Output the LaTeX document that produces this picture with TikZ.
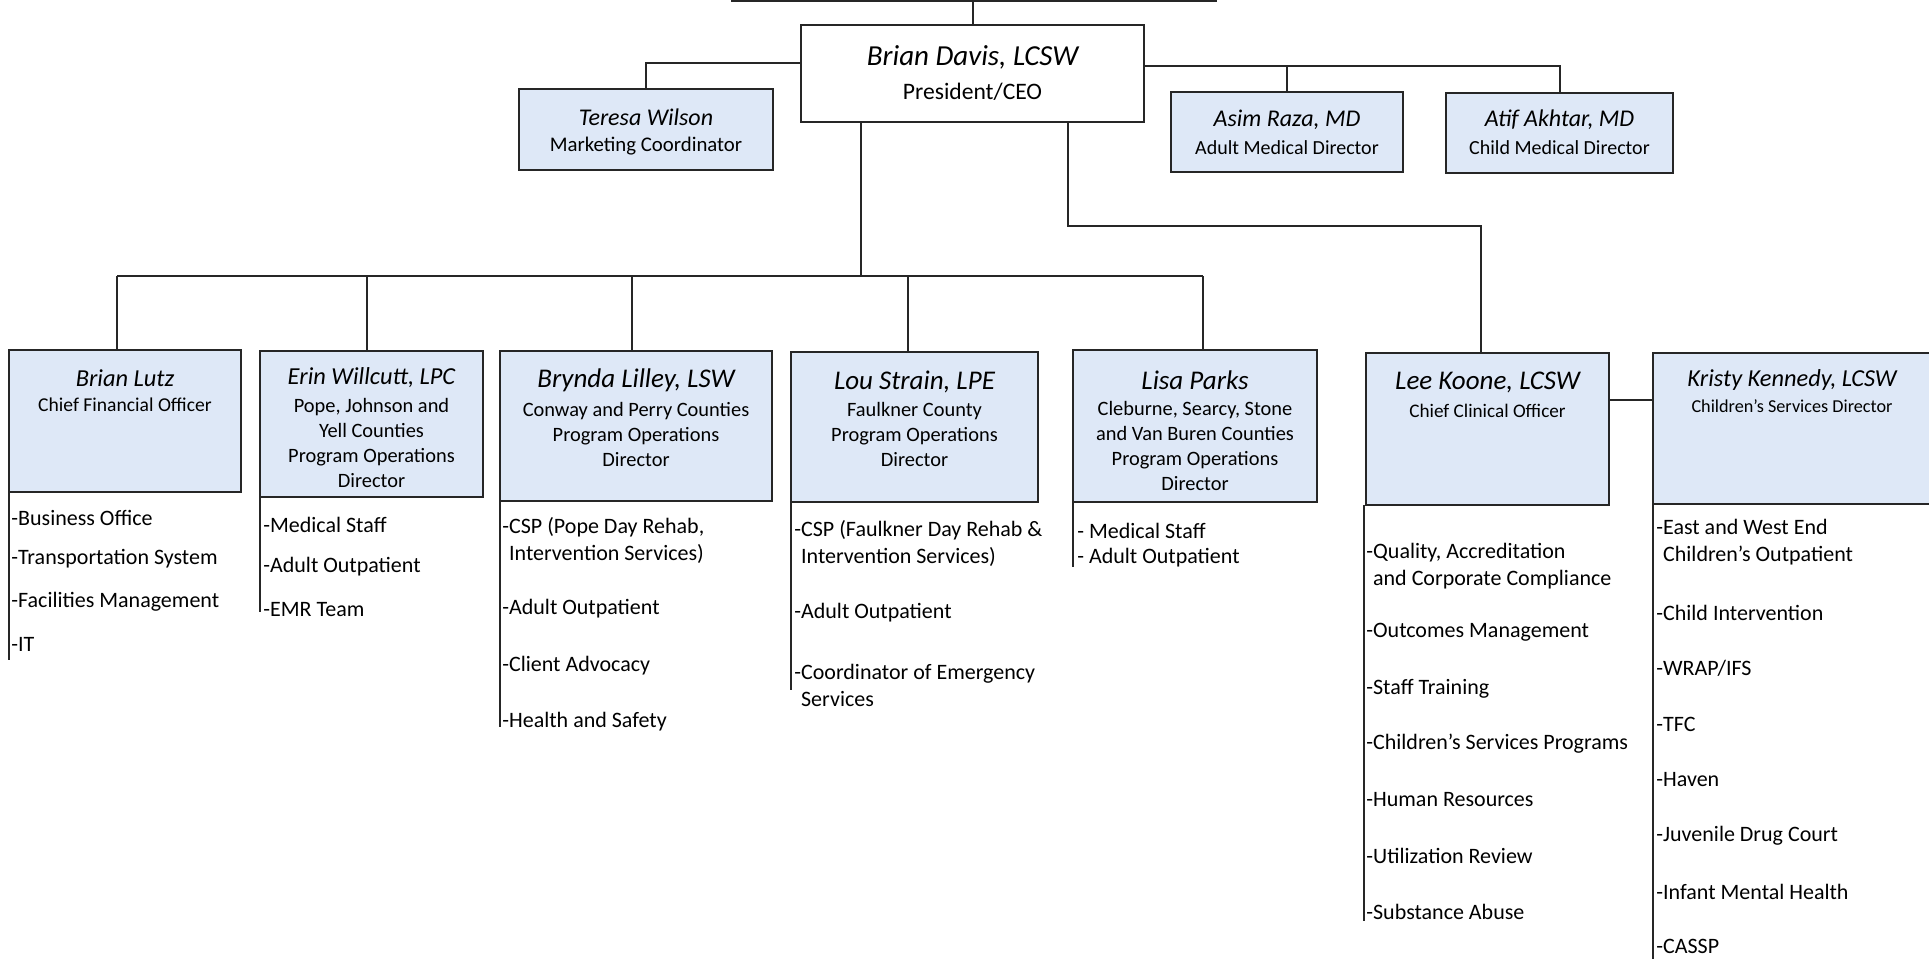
\documentclass[tikz,border=0pt]{standalone}
\usepackage{fontspec}
\setmainfont{Carlito}
\usetikzlibrary{calc}
\definecolor{boxblue}{RGB}{222,232,247}
\begin{document}
\begin{tikzpicture}[x=0.5pt,y=-0.5pt,
  box/.style={draw=black!85, line width=1.2pt, fill=boxblue, inner sep=0pt, outer sep=0pt},
  conn/.style={draw=black!85, line width=1pt},
  lline/.style={draw=black!85, line width=0.8pt},
  nm/.style={inner sep=0pt, font=\fontsize{13.5}{16}\selectfont\itshape},
  sb/.style={inner sep=0pt, align=center, font=\fontsize{10.2}{12.5}\selectfont},
  lst/.style={inner sep=0pt, anchor=west, align=left, font=\fontsize{11}{13.5}\selectfont}]
\useasboundingbox (0,0) rectangle (1929,959);
\clip (0,0) rectangle (1929,959);
\fill[white] (0,0) rectangle (1929,959);

% ---------- boxes ----------
\node[box, fill=white, minimum width=171.5pt, minimum height=48.5pt] (ceo) at (972.5,73.5) {};
\node[box, minimum width=127pt, minimum height=40.5pt] (teresa) at (646,129.5) {};
\node[box, minimum width=116pt, minimum height=40pt] (asim) at (1287,132) {};
\node[box, minimum width=113.5pt, minimum height=40pt] (atif) at (1559.5,133) {};
\node[box, minimum width=116pt, minimum height=71pt] (lutz) at (125,421) {};
\node[box, minimum width=111.5pt, minimum height=73pt] (erin) at (371.5,424) {};
\node[box, minimum width=136pt, minimum height=75pt] (brynda) at (636,426) {};
\node[box, minimum width=123.5pt, minimum height=75pt] (lou) at (914.5,427) {};
\node[box, minimum width=122pt, minimum height=76pt] (lisa) at (1195,426) {};
\node[box, minimum width=121.5pt, minimum height=76pt] (lee) at (1487.5,429) {};
\node[box, minimum width=139pt, minimum height=75.5pt] (kristy) at (1792,428.5) {};

% ---------- connectors ----------
\coordinate (topL) at (731,1);
\coordinate (topR) at (1217,1);
\coordinate (topM) at (972.5,1);
\draw[conn] (topL) -- (topR);
\draw[conn] (topM) -- (ceo.north);
\coordinate (tj) at (801,63);
\draw[conn] (tj) -| (teresa.north);
\coordinate (rj) at (1144,66);
\draw[conn] (rj) -| (atif.north);
\coordinate (aj) at (1287,66);
\draw[conn] (aj) -- (asim.north);
\coordinate (c1) at (861,122);
\coordinate (bus1) at (861,276);
\draw[conn] (c1) -- (bus1);
\coordinate (busL) at (117,276);
\coordinate (busR) at (1203,276);
\coordinate (b2) at (367,276);
\coordinate (b3) at (632,276);
\coordinate (b4) at (908,276);
\draw[conn] (busL) -- (busR);
\draw[conn] (busL) -- (busL |- lutz.north);
\draw[conn] (b2) -- (b2 |- erin.north);
\draw[conn] (b3) -- (b3 |- brynda.north);
\draw[conn] (b4) -- (b4 |- lou.north);
\draw[conn] (busR) -- (busR |- lisa.north);
\coordinate (c2) at (1068,122);
\coordinate (c3) at (1068,226);
\coordinate (c4) at (1481,226);
\draw[conn] (c2) -- (c3) -- (c4) -- (c4 |- lee.north);
\coordinate (lk) at (1609,400);
\draw[conn] (lk) -- (lk -| kristy.west);

% list lines
\draw[lline] (lutz.south west) -- ++(0,168);
\draw[lline] (erin.south west) -- ++(0,115);
\draw[lline] (brynda.south west) -- ++(0,226);
\draw[lline] (lou.south west) -- ++(0,188);
\draw[lline] (lisa.south west) -- ++(0,65);
\draw[lline] ([xshift=-1pt]lee.south west) -- ++(0,416);
\draw[lline] (kristy.south west) -- ++(0,455);

% ---------- box texts ----------
\node[nm, font=\fontsize{14.5}{17}\selectfont\itshape] (ceo-n) at (972.5,57) {Brian Davis, LCSW};
\node[inner sep=0pt, font=\fontsize{11.8}{14}\selectfont] (ceo-s) at (972.5,92) {President/CEO};
\node[nm, font=\fontsize{12}{14}\selectfont\itshape] (teresa-n) at (646,117) {Teresa Wilson};
\node[sb, font=\fontsize{10.4}{12.5}\selectfont] (teresa-s) at (646,146) {Marketing Coordinator};
\node[nm, font=\fontsize{12}{14}\selectfont\itshape] (asim-n) at (1287,120) {Asim Raza, MD};
\node[sb, font=\fontsize{10}{12.5}\selectfont] (asim-s) at (1287,148) {Adult Medical Director};
\node[nm, font=\fontsize{12}{14}\selectfont\itshape] (atif-n) at (1559.5,120) {Atif Akhtar, MD};
\node[sb, font=\fontsize{10}{12.5}\selectfont] (atif-s) at (1559.5,148) {Child Medical Director};

\node[nm, font=\fontsize{12.2}{14}\selectfont\itshape] (lutz-n) at (125,378) {Brian Lutz};
\node[sb, font=\fontsize{9.8}{12.5}\selectfont] (lutz-s) at (125,405) {Chief Financial Officer};
\node[nm, font=\fontsize{12.2}{14}\selectfont\itshape] (erin-n) at (371.5,378) {Erin Willcutt, LPC};
\node[sb] (erin-s) at (371.5,442.5) {Pope, Johnson and\\Yell Counties\\Program Operations\\Director};
\node[nm] (brynda-n) at (636,380) {Brynda Lilley, LSW};
\node[sb] (brynda-s) at (636,434) {Conway and Perry Counties\\Program Operations\\Director};
\node[nm] (lou-n) at (914.5,382) {Lou Strain, LPE};
\node[sb] (lou-s) at (914.5,434) {Faulkner County\\Program Operations\\Director};
\node[nm] (lisa-n) at (1195,380) {Lisa Parks};
\node[sb] (lisa-s) at (1195,445.5) {Cleburne, Searcy, Stone\\and Van Buren Counties\\Program Operations\\Director};
\node[nm] (lee-n) at (1487.5,382) {Lee Koone, LCSW};
\node[sb, font=\fontsize{9.6}{12.5}\selectfont] (lee-s) at (1487.5,411) {Chief Clinical Officer};
\node[nm, font=\fontsize{12.2}{14}\selectfont\itshape] (kristy-n) at (1792,380) {Kristy Kennedy, LCSW};
\node[sb, font=\fontsize{9.1}{12}\selectfont] (kristy-s) at (1792,406) {Children’s Services Director};

% ---------- lists ----------
\node[lst] (l1) at (11,518) {-Business Office};
\node[lst] (l2) at (11,559) {-Transportation System};
\node[lst] (l3) at (11,602) {-Facilities Management};
\node[lst] (l4) at (11,644) {-IT};

\node[lst] (e1) at (263,525) {-Medical Staff};
\node[lst] (e2) at (263,567) {-Adult Outpatient};
\node[lst] (e3) at (263,610) {-EMR Team};

\node[lst] (br1) at (502,540) {-CSP (Pope Day Rehab,\\\phantom{-}Intervention Services)};
\node[lst] (br2) at (502,609) {-Adult Outpatient};
\node[lst] (br3) at (502,666) {-Client Advocacy};
\node[lst] (br4) at (502,722) {-Health and Safety};

\node[lst] (lo1) at (794,543) {-CSP (Faulkner Day Rehab \&\\\phantom{-}Intervention Services)};
\node[lst] (lo2) at (794,613) {-Adult Outpatient};
\node[lst] (lo3) at (794,685.5) {-Coordinator of Emergency\\\phantom{-}Services};

\node[lst] (li1) at (1077,531) {- Medical Staff};
\node[lst] (li2) at (1077,558) {- Adult Outpatient};

\node[lst] (le1) at (1366,566) {-Quality, Accreditation\\\phantom{-}and Corporate Compliance};
\node[lst] (le2) at (1366,632) {-Outcomes Management};
\node[lst] (le3) at (1366,689) {-Staff Training};
\node[lst] (le4) at (1366,744) {-Children’s Services Programs};
\node[lst] (le5) at (1366,800) {-Human Resources};
\node[lst] (le6) at (1366,856) {-Utilization Review};
\node[lst] (le7) at (1366,912) {-Substance Abuse};

\node[lst] (k1) at (1656,542.5) {-East and West End\\\phantom{-}Children’s Outpatient};
\node[lst] (k2) at (1656,613) {-Child Intervention};
\node[lst] (k3) at (1656,668) {-WRAP/IFS};
\node[lst] (k4) at (1656,724) {-TFC};
\node[lst] (k5) at (1656,780) {-Haven};
\node[lst] (k6) at (1656,836) {-Juvenile Drug Court};
\node[lst] (k7) at (1656,892) {-Infant Mental Health};
\node[lst] (k8) at (1656,946) {-CASSP};
\end{tikzpicture}
\end{document}
